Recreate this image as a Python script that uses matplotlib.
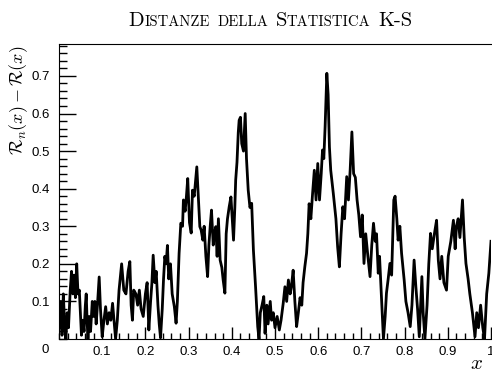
import matplotlib
matplotlib.use("Agg")
import matplotlib.pyplot as plt
from matplotlib.ticker import MultipleLocator, FixedLocator

# valori: |F_n(x) - F(x)|
x_vals = [0.000, 0.004, 0.007, 0.010, 0.013, 0.016, 0.019, 0.022, 0.026, 0.029,
          0.032, 0.035, 0.038, 0.041, 0.044, 0.047, 0.050, 0.052, 0.055, 0.058,
          0.061, 0.063, 0.065, 0.067, 0.070, 0.073, 0.077, 0.080, 0.083, 0.086,
          0.089, 0.093, 0.096, 0.100, 0.104, 0.108, 0.112, 0.116, 0.120, 0.124,
          0.128, 0.131, 0.135, 0.139, 0.145, 0.150, 0.155, 0.160, 0.164, 0.167,
          0.170, 0.173, 0.178, 0.182, 0.186, 0.190, 0.195, 0.200, 0.204, 0.208,
          0.212, 0.215, 0.218, 0.222, 0.225, 0.229, 0.232, 0.235, 0.239, 0.242,
          0.245, 0.248, 0.251, 0.254, 0.258, 0.262, 0.267, 0.271, 0.274, 0.278,
          0.282, 0.286, 0.288, 0.292, 0.295, 0.298, 0.302, 0.306, 0.309, 0.313,
          0.316, 0.319, 0.322, 0.326, 0.329, 0.333, 0.336, 0.340, 0.344, 0.347,
          0.350, 0.353, 0.357, 0.360, 0.363, 0.366, 0.369, 0.373, 0.377, 0.380,
          0.384, 0.387, 0.390, 0.394, 0.398, 0.401, 0.404, 0.407, 0.409, 0.412,
          0.415, 0.417, 0.420, 0.423, 0.427, 0.431, 0.434, 0.438, 0.442, 0.446,
          0.450, 0.455, 0.460, 0.463, 0.466, 0.470, 0.474, 0.477, 0.481, 0.484,
          0.489, 0.492, 0.496, 0.500, 0.505, 0.510, 0.514, 0.519, 0.523, 0.527,
          0.531, 0.535, 0.538, 0.542, 0.546, 0.550, 0.554, 0.558, 0.562, 0.565,
          0.569, 0.573, 0.576, 0.579, 0.583, 0.587, 0.591, 0.595, 0.599, 0.603,
          0.607, 0.610, 0.613, 0.616, 0.620, 0.623, 0.626, 0.629, 0.635, 0.641,
          0.645, 0.649, 0.653, 0.657, 0.661, 0.666, 0.670, 0.674, 0.678, 0.682,
          0.686, 0.690, 0.694, 0.698, 0.702, 0.706, 0.710, 0.715, 0.720, 0.724,
          0.728, 0.732, 0.735, 0.739, 0.742, 0.746, 0.749, 0.751, 0.755, 0.758,
          0.762, 0.766, 0.770, 0.775, 0.778, 0.782, 0.785, 0.789, 0.793, 0.799,
          0.803, 0.808, 0.813, 0.817, 0.822, 0.826, 0.830, 0.834, 0.840, 0.843,
          0.847, 0.852, 0.856, 0.860, 0.864, 0.869, 0.874, 0.878, 0.882, 0.886,
          0.891, 0.897, 0.901, 0.907, 0.913, 0.917, 0.920, 0.924, 0.928, 0.934,
          0.938, 0.942, 0.947, 0.951, 0.957, 0.963, 0.967, 0.971, 0.976, 0.981,
          0.985, 0.990, 0.995, 1.000]
y_vals = [0.03, 0.10, 0.01, 0.12, 0.04, 0.00, 0.07, 0.03, 0.13, 0.18,
          0.12, 0.17, 0.11, 0.20, 0.12, 0.13, 0.06, 0.01, 0.05, 0.02,
          0.09, 0.12, 0.05, 0.00, 0.06, 0.02, 0.10, 0.06, 0.10, 0.04,
          0.09, 0.165, 0.08, 0.006, 0.05, 0.086, 0.04, 0.07, 0.05, 0.095,
          0.04, 0.00, 0.05, 0.13, 0.20, 0.13, 0.12, 0.18, 0.206, 0.09,
          0.05, 0.13, 0.12, 0.09, 0.13, 0.08, 0.06, 0.12, 0.15, 0.024,
          0.10, 0.148, 0.223, 0.15, 0.18, 0.09, 0.04, 0.003, 0.08, 0.16,
          0.22, 0.20, 0.249, 0.16, 0.20, 0.12, 0.086, 0.042, 0.10, 0.228,
          0.308, 0.30, 0.37, 0.34, 0.38, 0.427, 0.31, 0.282, 0.396, 0.38,
          0.42, 0.458, 0.39, 0.299, 0.29, 0.263, 0.30, 0.22, 0.166, 0.25,
          0.30, 0.343, 0.25, 0.28, 0.299, 0.22, 0.32, 0.21, 0.19, 0.157,
          0.122, 0.28, 0.32, 0.352, 0.378, 0.32, 0.263, 0.35, 0.423, 0.47,
          0.55, 0.582, 0.59, 0.52, 0.50, 0.60, 0.48, 0.396, 0.35, 0.361,
          0.237, 0.139, 0.033, 0.00, 0.07, 0.09, 0.113, 0.015, 0.09, 0.04,
          0.10, 0.05, 0.07, 0.03, 0.06, 0.024, 0.05, 0.095, 0.139, 0.10,
          0.157, 0.12, 0.14, 0.183, 0.10, 0.033, 0.07, 0.11, 0.09, 0.15,
          0.192, 0.228, 0.28, 0.36, 0.32, 0.387, 0.449, 0.37, 0.467, 0.37,
          0.44, 0.503, 0.48, 0.565, 0.707, 0.65, 0.511, 0.449, 0.387, 0.32,
          0.245, 0.192, 0.28, 0.352, 0.32, 0.432, 0.37, 0.45, 0.551, 0.44,
          0.43, 0.37, 0.33, 0.272, 0.33, 0.201, 0.28, 0.22, 0.166, 0.25,
          0.308, 0.26, 0.28, 0.175, 0.22, 0.12, 0.051, 0.00, 0.06, 0.122,
          0.16, 0.201, 0.17, 0.37, 0.38, 0.32, 0.263, 0.30, 0.228, 0.157,
          0.10, 0.07, 0.033, 0.09, 0.21, 0.14, 0.08, 0.006, 0.166, 0.07,
          0.00, 0.09, 0.20, 0.281, 0.24, 0.28, 0.316, 0.21, 0.16, 0.22,
          0.15, 0.13, 0.22, 0.26, 0.316, 0.24, 0.30, 0.32, 0.27, 0.37,
          0.27, 0.201, 0.16, 0.12, 0.07, 0.006, 0.07, 0.03, 0.09, 0.03,
          0.00, 0.12, 0.175, 0.26]

xtick_pos = [0.1, 0.2, 0.3, 0.4, 0.5, 0.6, 0.7, 0.8, 0.9, 1.0]
xtick_lab = ["0.1", "0.2", "0.3", "0.4", "0.5", "0.6", "0.7", "0.8", "0.9", "1"]
ytick_pos = [0.1, 0.2, 0.3, 0.4, 0.5, 0.6, 0.7]
ytick_lab = ["0.1", "0.2", "0.3", "0.4", "0.5", "0.6", "0.7"]

plt.rcParams['mathtext.fontset'] = 'cm'

W, H = 492, 374
fig = plt.figure(figsize=(W / 100, H / 100), dpi=100)
ax = fig.add_axes([59 / W, (H - 339) / H, (491 - 59) / W, (339 - 44) / H])

ax.plot(x_vals, y_vals, color='black', lw=2.0)

ax.set_xlim(0, 1.0)
ax.set_ylim(0, 0.785)
ax.spines['right'].set_visible(False)

ax.xaxis.set_major_locator(FixedLocator(xtick_pos))
ax.set_xticklabels(xtick_lab)
ax.xaxis.set_minor_locator(MultipleLocator(0.02))
ax.yaxis.set_major_locator(FixedLocator(ytick_pos))
ax.set_yticklabels(ytick_lab)
ax.yaxis.set_minor_locator(MultipleLocator(0.02))

ax.xaxis.set_tick_params(which='major', direction='in', length=9, width=1, pad=5)
ax.xaxis.set_tick_params(which='minor', direction='in', length=4.5, width=1)
ax.yaxis.set_tick_params(which='major', direction='in', length=12, width=1, pad=6.5)
ax.yaxis.set_tick_params(which='minor', direction='in', length=6, width=1)
for lab in ax.get_xticklabels() + ax.get_yticklabels():
    lab.set_fontfamily('Liberation Sans')
    lab.set_fontsize(9.5)

# lo zero dell'asse y, un po' piu' in basso come in ROOT
ax.annotate('0', xy=(0, 0), xycoords='axes fraction', xytext=(-7, -8),
            textcoords='offset points', ha='right', va='center',
            family='Liberation Sans', fontsize=9.5)

fig.text(19 / W, 1 - 46 / H, r'$\mathcal{R}_n(x) - \mathcal{R}(x)$', rotation=90,
         ha='center', va='top', fontsize=13)
fig.text(477 / W, 1 - 363 / H, r'$x$', ha='center', va='center', fontsize=15)

# titolo in maiuscoletto
pezzi = [("D", 14.8), ("ISTANZE", 10.6), (None, 0), ("DELLA", 10.6), (None, 0),
         ("S", 14.8), ("TATISTICA", 10.6), (None, 0), ("K-S", 14.8)]
renderer = fig.canvas.get_renderer()
testi = []
larghezze = []
for s, fs in pezzi:
    if s is None:
        testi.append(None)
        larghezze.append(7.5)
        continue
    t = fig.text(0, 1 - 26 / H, s, family='cmr10', fontsize=fs, va='baseline', ha='left')
    testi.append(t)
    larghezze.append(t.get_window_extent(renderer).width)
totale = sum(larghezze)
xcur = 270.5 - totale / 2
for t, w in zip(testi, larghezze):
    if t is not None:
        t.set_x(xcur / W)
    xcur += w

fig.savefig('out.png', dpi=100)
